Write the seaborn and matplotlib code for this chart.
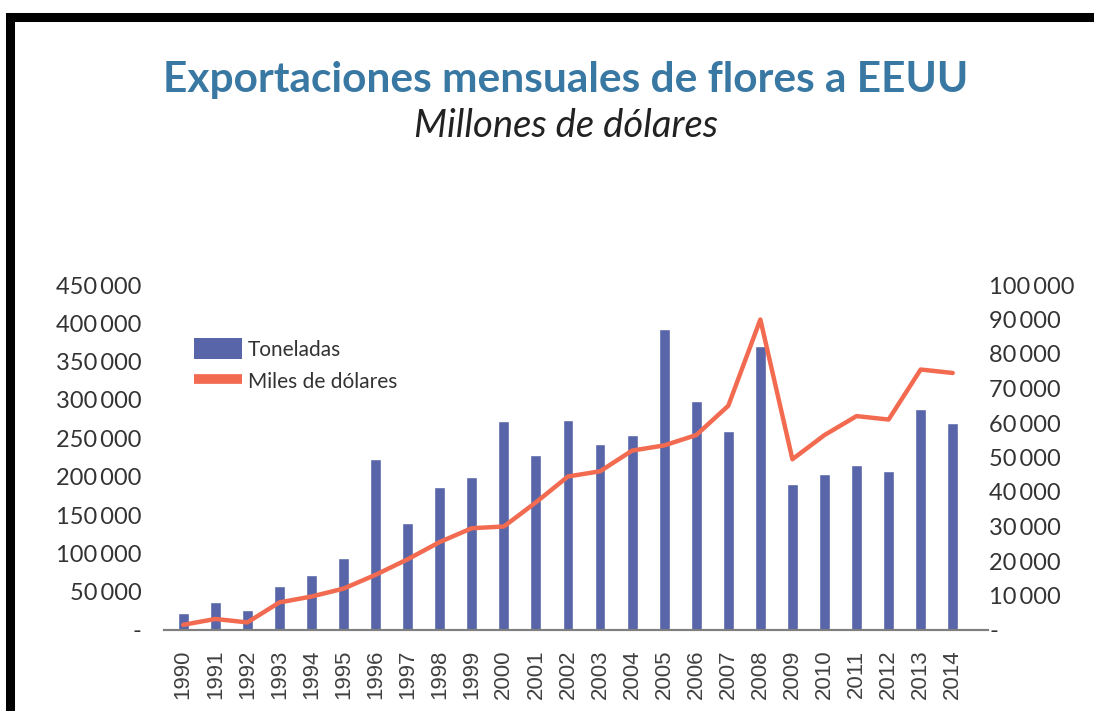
import numpy as np
import pandas as pd
import matplotlib
matplotlib.use("Agg")
import matplotlib.pyplot as plt
import seaborn as sns
from matplotlib.lines import Line2D
from matplotlib.patches import Patch
from matplotlib.ticker import FuncFormatter, MultipleLocator

# ---- data ----
years = ["1990", "1991", "1992", "1993", "1994", "1995", "1996", "1997", "1998",
         "1999", "2000", "2001", "2002", "2003", "2004", "2005", "2006", "2007",
         "2008", "2009", "2010", "2011", "2012", "2013", "2014"]
toneladas = [22000, 36000, 26000, 57000, 72000, 94000, 223000, 140000, 186000,
             200000, 272000, 228000, 274000, 242000, 255000, 392000, 299000, 259000,
             370000, 190000, 203000, 215000, 207000, 288000, 270000]
miles_usd = [1500, 3200, 2200, 8000, 9700, 12000, 16000, 20500, 25500,
             29500, 30000, 37000, 44500, 46000, 52000, 53500, 56500, 65000,
             90000, 49500, 56500, 62000, 61000, 75500, 74500]
title = "Exportaciones mensuales de flores a EEUU"
subtitle = "Millones de dólares"
label_bar = "Toneladas"
label_line = "Miles de dólares"

df = pd.DataFrame({"year": years, "ton": toneladas, "usd": miles_usd})

BAR = "#5865a9"
LINE = "#f26b50"
TITLE = "#3878a3"
TXT = "#333333"

sns.set_theme(style="white")
plt.rcParams["font.family"] = ["Lato", "DejaVu Sans"]

W, H = 1094, 711
fig = plt.figure(figsize=(W / 100, H / 100), dpi=100)
ax = fig.add_axes([164 / W, 1 - 630 / H, (988 - 164) / W, (630 - 285) / H])

sns.barplot(data=df, x="year", y="ton", color=BAR, saturation=1, width=0.34,
            ax=ax, zorder=2)
ax.set_xlim(-0.6, 25.1)
ax.set_ylim(0, 450000)
ax2 = ax.twinx()
sns.pointplot(data=df, x="year", y="usd", color=LINE, markers="", linestyles="-",
              errorbar=None, ax=ax2, lw=3.2)
for l in ax2.lines:
    l.set_linewidth(3.2)
    l.set_solid_joinstyle("round")
ax2.set_ylim(0, 100000)
ax2.set_xlim(-0.6, 25.1)

fmt = FuncFormatter(lambda v, p: "-" if v == 0 else f"{int(round(v)):,}".replace(",", "\u2009"))
ax.yaxis.set_major_locator(MultipleLocator(50000))
ax2.yaxis.set_major_locator(MultipleLocator(10000))
ax.yaxis.set_major_formatter(fmt)
ax2.yaxis.set_major_formatter(fmt)

for a in (ax, ax2):
    for s in ("top", "left", "right"):
        a.spines[s].set_visible(False)
    a.spines["bottom"].set_color("#7f7f7f")
    a.spines["bottom"].set_linewidth(1.5)
    a.set_xlabel("")
    a.set_ylabel("")
    a.grid(False)

ax.tick_params(axis="y", length=0, pad=16, labelsize=17, labelcolor=TXT)
ax2.tick_params(axis="y", length=0, pad=1, labelsize=17, labelcolor=TXT)
for t in ax.get_yticklabels() + ax2.get_yticklabels():
    t.set_family(["Lato", "DejaVu Sans"])
ax.tick_params(axis="x", length=0, pad=14, labelsize=16, labelcolor="#404040")
for t in ax.get_xticklabels():
    t.set_rotation(90)
    t.set_family("Liberation Sans")
ax2.tick_params(axis="x", length=0)

handles = [Patch(facecolor=BAR, edgecolor="none"),
           Line2D([0], [0], color=LINE, lw=7, solid_capstyle="butt")]
leg = ax.legend(handles, [label_bar, label_line], loc="upper left",
                bbox_to_anchor=(194 / W, 1 - 338 / H), bbox_transform=fig.transFigure,
                frameon=False, fontsize=15, handlelength=2.3, handleheight=1.2,
                handletextpad=0.3, labelspacing=0.5, borderpad=0, borderaxespad=0)
for t in leg.get_texts():
    t.set_color(TXT)
leg.set_zorder(5)

fig.text(566 / W, 1 - 92 / H, title, ha="center", va="baseline", fontsize=30.5,
         fontweight="bold", color=TITLE, family="Lato")
fig.text(566 / W, 1 - 137 / H, subtitle, ha="center", va="baseline", fontsize=27.5,
         style="italic", color="#222222", family="Lato")

# frame border (top and left)
fig.add_artist(Line2D([9.5 / W, 9.5 / W, 1.0], [0.0, 1 - 16.5 / H, 1 - 16.5 / H],
                      transform=fig.transFigure, color="black", lw=6.5,
                      solid_joinstyle="miter"))

fig.savefig("out.png", dpi=100)
